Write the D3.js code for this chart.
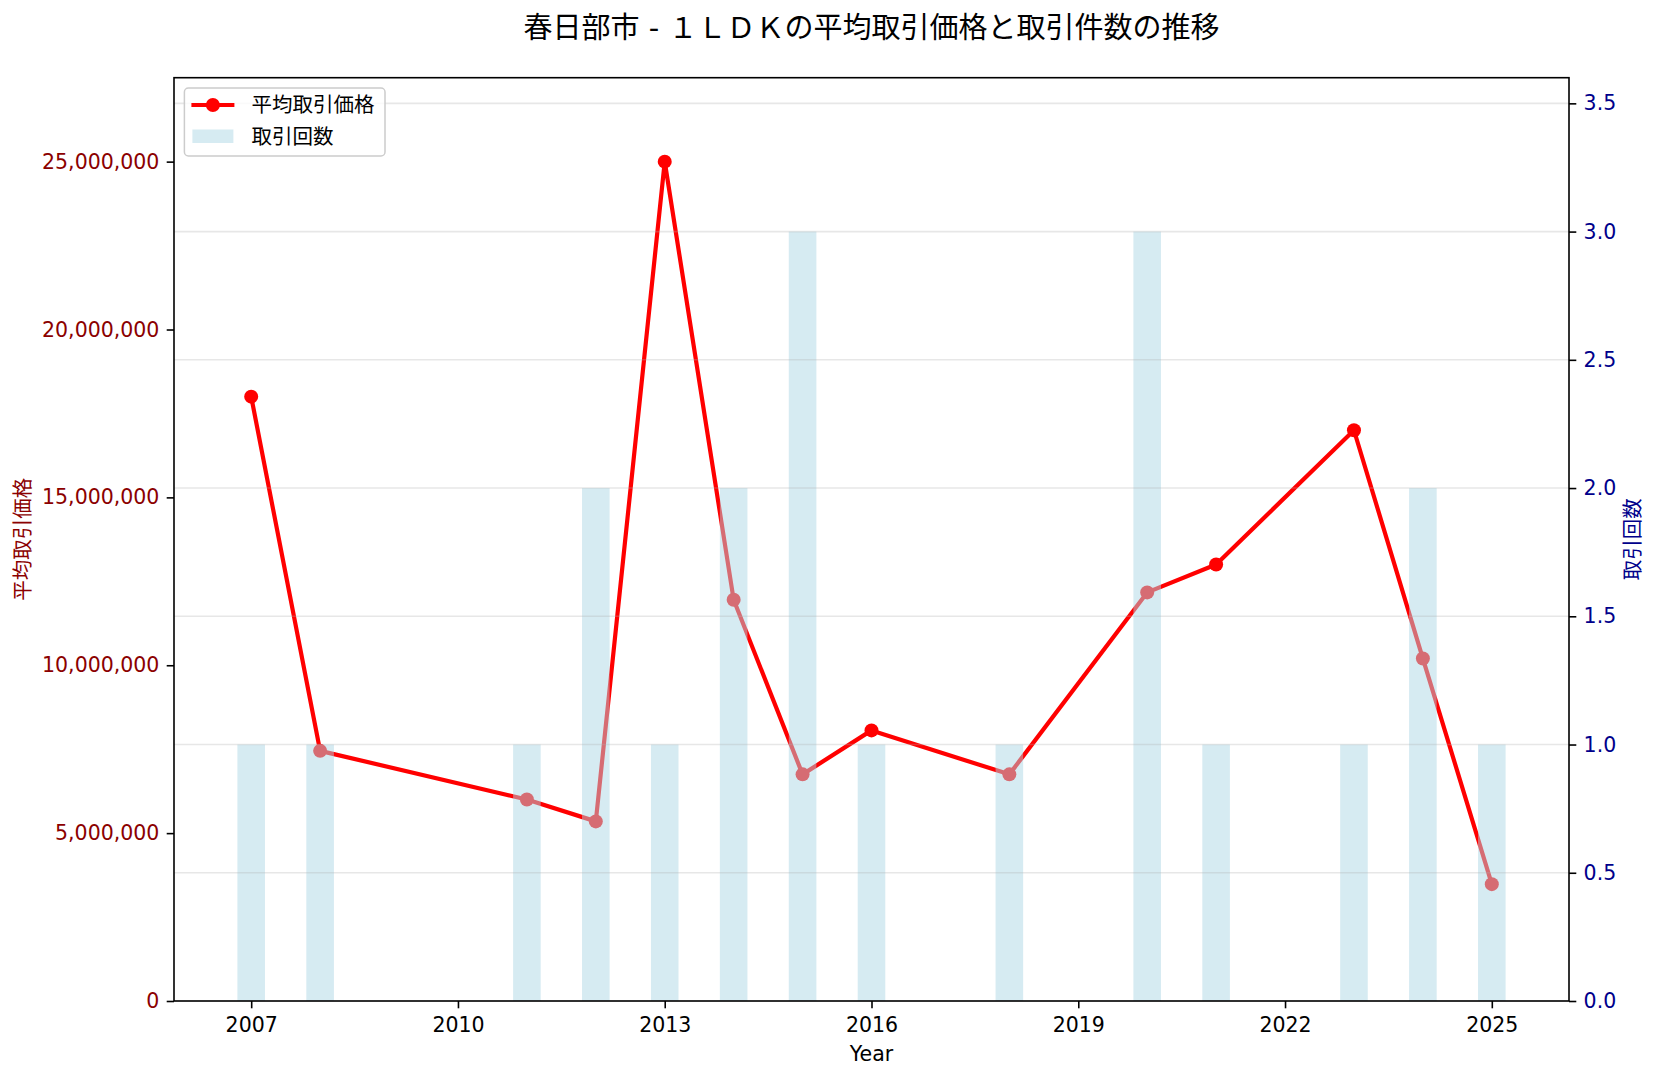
<!DOCTYPE html>
<html>
<head>
<meta charset="utf-8">
<script src="https://cdn.jsdelivr.net/npm/d3@7"></script>
<style>
	body { margin: 0; background: #fff; }
	svg text { font-family: "DejaVu Sans", "Noto Sans CJK JP", sans-serif; }
</style>
</head>
<body>
<div id="chart"></div>
<script>
// data
var years = [2007, 2008, 2011, 2012, 2013, 2014, 2015, 2016, 2018, 2020, 2021, 2023, 2024, 2025];
var avgPrices = [18000000, 7450000, 6000000, 5350000, 25000000, 11950000, 6750000, 8060000, 6750000, 12170000, 13000000, 17000000, 10200000, 3480000];
var tradeCounts = [1, 1, 1, 2, 1, 2, 3, 1, 1, 3, 1, 1, 2, 1];

var xTickYears = [2007, 2010, 2013, 2016, 2019, 2022, 2025];
var priceTicks = [0, 5000000, 10000000, 15000000, 20000000, 25000000];
var countTicks = [0, 0.5, 1, 1.5, 2, 2.5, 3, 3.5];

var titleText = "春日部市 - １ＬＤＫの平均取引価格と取引件数の推移";
var priceLabel = "平均取引価格";
var countLabel = "取引回数";

function drawChart() {
	var width = 1658, height = 1080;
	var left = 174, right = 1569, top = 77.7, bottom = 1001;
	var barWidth = 0.4;

	var svg = d3.select("#chart").append("svg")
		.attr("width", width).attr("height", height);

	// x range padded like matplotlib (5% around bars)
	var xmin = d3.min(years) - barWidth / 2, xmax = d3.max(years) + barWidth / 2;
	var pad = (xmax - xmin) * 0.05;
	var x = d3.scaleLinear().domain([xmin - pad, xmax + pad]).range([left, right]);

	var yPrice = d3.scaleLinear().domain([0, d3.max(avgPrices) * 1.1]).range([bottom, top]);
	var yCount = d3.scaleLinear().domain([0, d3.max(tradeCounts) * 1.2]).range([bottom, top]);

	// price line (first axis, drawn underneath)
	var line = d3.line()
		.x(function (d, i) { return x(years[i]); })
		.y(function (d) { return yPrice(d); });

	svg.append("path")
		.datum(avgPrices)
		.attr("d", line)
		.attr("fill", "none")
		.attr("stroke", "red")
		.attr("stroke-width", 4.2)
		.attr("stroke-linejoin", "round");

	svg.append("g").selectAll("circle")
		.data(avgPrices).enter()
		.append("circle")
		.attr("cx", function (d, i) { return x(years[i]); })
		.attr("cy", function (d) { return yPrice(d); })
		.attr("r", 7)
		.attr("fill", "red");

	// count bars (twin axis, on top)
	svg.append("g").selectAll("rect")
		.data(tradeCounts).enter()
		.append("rect")
		.attr("x", function (d, i) { return x(years[i] - barWidth / 2); })
		.attr("width", function (d, i) { return x(years[i] + barWidth / 2) - x(years[i] - barWidth / 2); })
		.attr("y", function (d) { return yCount(d); })
		.attr("height", function (d) { return bottom - yCount(d); })
		.attr("fill", "lightblue")
		.attr("fill-opacity", 0.5);

	// grid from the count axis
	svg.append("g").selectAll("line")
		.data(countTicks).enter()
		.append("line")
		.attr("x1", left).attr("x2", right)
		.attr("y1", function (d) { return yCount(d); })
		.attr("y2", function (d) { return yCount(d); })
		.attr("stroke", "#b0b0b0")
		.attr("stroke-opacity", 0.3)
		.attr("stroke-width", 1.6);

	// axes
	var xAxis = d3.axisBottom(x).tickValues(xTickYears).tickFormat(d3.format("d"))
		.tickSizeInner(7.3).tickSizeOuter(0).tickPadding(9.5);
	var leftAxis = d3.axisLeft(yPrice).tickValues(priceTicks).tickFormat(d3.format(",d"))
		.tickSizeInner(7.3).tickSizeOuter(0).tickPadding(7.3);
	var rightAxis = d3.axisRight(yCount).tickValues(countTicks).tickFormat(d3.format(".1f"))
		.tickSizeInner(7.3).tickSizeOuter(0).tickPadding(7.3);

	var gx = svg.append("g").attr("transform", "translate(0," + bottom + ")").call(xAxis);
	var gl = svg.append("g").attr("transform", "translate(" + left + ",0)").call(leftAxis);
	var gr = svg.append("g").attr("transform", "translate(" + right + ",0)").call(rightAxis);

	[gx, gl, gr].forEach(function (g) {
		g.select(".domain").remove();
		g.selectAll(".tick line").attr("stroke", "#000").attr("stroke-width", 1.6);
		g.selectAll(".tick text").attr("font-size", 20.5).attr("font-family", null);
	});
	gx.selectAll(".tick text").attr("fill", "#000");
	gl.selectAll(".tick text").attr("fill", "darkred");
	gr.selectAll(".tick text").attr("fill", "darkblue");

	// frame
	svg.append("rect")
		.attr("x", left).attr("y", top)
		.attr("width", right - left).attr("height", bottom - top)
		.attr("fill", "none").attr("stroke", "#000").attr("stroke-width", 1.6);

	// title and labels
	svg.append("text")
		.attr("x", (left + right) / 2).attr("y", 38)
		.attr("text-anchor", "middle")
		.attr("font-size", 29)
		.text(titleText);

	svg.append("text")
		.attr("x", (left + right) / 2).attr("y", 1061)
		.attr("text-anchor", "middle")
		.attr("font-size", 20.5)
		.text("Year");

	svg.append("text")
		.attr("transform", "translate(23," + (top + bottom) / 2 + ") rotate(-90)")
		.attr("text-anchor", "middle")
		.attr("dominant-baseline", "central")
		.attr("font-size", 20.5)
		.attr("fill", "darkred")
		.text(priceLabel);

	svg.append("text")
		.attr("transform", "translate(1633," + (top + bottom) / 2 + ") rotate(-90)")
		.attr("text-anchor", "middle")
		.attr("dominant-baseline", "central")
		.attr("font-size", 20.5)
		.attr("fill", "darkblue")
		.text(countLabel);

	// legend
	var legend = svg.append("g").attr("transform", "translate(184.4,88)");
	legend.append("rect")
		.attr("width", 200.6).attr("height", 68)
		.attr("rx", 4).attr("ry", 4)
		.attr("fill", "#fff").attr("fill-opacity", 0.8)
		.attr("stroke", "#cccccc").attr("stroke-width", 1.5);

	legend.append("line")
		.attr("x1", 7).attr("x2", 50).attr("y1", 17).attr("y2", 17)
		.attr("stroke", "red").attr("stroke-width", 4.2);
	legend.append("circle")
		.attr("cx", 28.5).attr("cy", 17).attr("r", 7).attr("fill", "red");
	legend.append("text")
		.attr("x", 67).attr("y", 17)
		.attr("dominant-baseline", "central")
		.attr("font-size", 20.5)
		.text(priceLabel);

	legend.append("rect")
		.attr("x", 8).attr("y", 41.5).attr("width", 41).attr("height", 13.5)
		.attr("fill", "lightblue").attr("fill-opacity", 0.5);
	legend.append("text")
		.attr("x", 67).attr("y", 48.5)
		.attr("dominant-baseline", "central")
		.attr("font-size", 20.5)
		.text(countLabel);
}

drawChart();
</script>
</body>
</html>
